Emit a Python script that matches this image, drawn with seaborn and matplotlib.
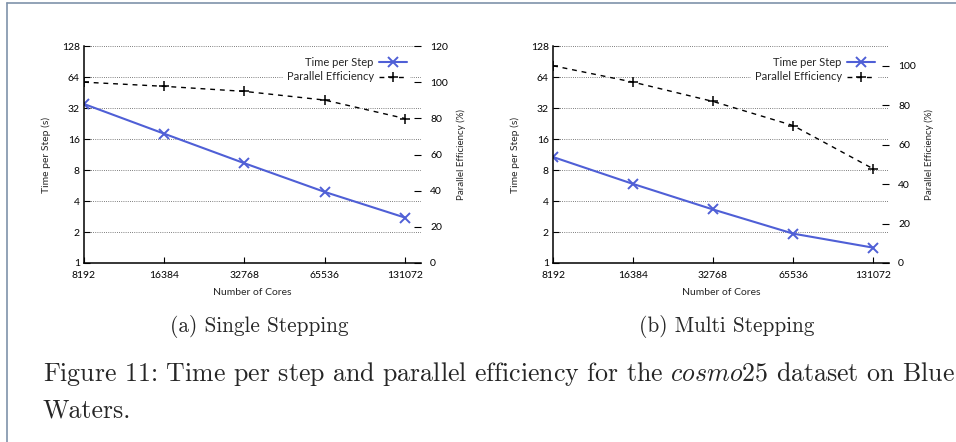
import matplotlib
matplotlib.use("Agg")
import matplotlib.pyplot as plt
from matplotlib.lines import Line2D
from matplotlib.ticker import NullLocator
import seaborn as sns

# data
cores = [8192, 16384, 32768, 65536, 131072]
single_time = [35.0, 18.0, 9.3, 4.9, 2.76]
single_eff = [100.0, 97.7, 94.9, 90.1, 79.9]
multi_time = [10.7, 5.86, 3.31, 1.93, 1.41]
multi_eff = [100.0, 91.7, 81.9, 69.7, 47.8]

time_ticks = [1, 2, 4, 8, 16, 32, 64, 128]
eff_ticks_single = [0, 20, 40, 60, 80, 100, 120]
eff_ticks_multi = [0, 20, 40, 60, 80, 100]

sns.set_style("white")
plt.rcParams["font.family"] = ["Lato", "DejaVu Sans"]
plt.rcParams["mathtext.fontset"] = "cm"

BLUE = "#4f5fd6"
FS = 7.5


def draw_panel(fig, rect, time, eff, eff_top, eff_ticks):
    ax = fig.add_axes(rect)
    ax.set_xscale("log", base=2)
    ax.set_yscale("log", base=2)

    sns.lineplot(x=cores, y=time, ax=ax, color=BLUE, lw=1.5, marker="x",
                 markersize=7, markeredgewidth=1.4, markeredgecolor=BLUE,
                 label="Time per Step", legend=False)

    ax.set_xlim(8192, 2 ** 17.2)
    ax.set_ylim(1, 128)
    ax.set_xticks(cores)
    ax.set_xticklabels([str(c) for c in cores])
    ax.set_yticks(time_ticks)
    ax.set_yticklabels([str(t) for t in time_ticks])
    ax.xaxis.set_minor_locator(NullLocator())
    ax.yaxis.set_minor_locator(NullLocator())
    ax.grid(axis="y", color="#555555", lw=0.6, ls=(0, (1, 1.6)))
    ax.grid(axis="x", visible=False)
    for s in ["top", "right"]:
        ax.spines[s].set_visible(False)
    for s in ["left", "bottom"]:
        ax.spines[s].set_color("black")
        ax.spines[s].set_linewidth(1.1)
    ax.tick_params(axis="both", direction="in", length=4, width=0.8,
                   labelsize=FS, colors="black")
    ax.tick_params(axis="y", pad=3, left=True)
    ax.tick_params(axis="x", pad=5.5, bottom=True)
    ax.set_xlabel("Number of Cores", fontsize=7.5, labelpad=6)
    ax.set_ylabel("Time per Step (s)", fontsize=7.5, labelpad=8)

    ax2 = ax.twinx()
    sns.lineplot(x=cores, y=eff, ax=ax2, color="black", lw=1.0,
                 linestyle=(0, (3.5, 3.5)), marker="+", markersize=7,
                 markeredgewidth=1.1, markeredgecolor="black",
                 label="Parallel Efficiency", legend=False)
    ax2.set_ylim(0, eff_top)
    ax2.set_yticks(eff_ticks)
    ax2.set_yticklabels([str(t) for t in eff_ticks])
    ax2.grid(False)
    for s in ax2.spines.values():
        s.set_visible(False)
    ax2.tick_params(axis="y", direction="in", length=5, width=0.8,
                    labelsize=FS, pad=6.5, right=True, colors="black")
    ax2.set_ylabel("Parallel Efficiency (%)", fontsize=7, labelpad=6)

    handles = [ax.lines[0], ax2.lines[0]]
    ax2.legend(handles=handles, labels=["Time per Step", "Parallel Efficiency"],
               loc="upper right", bbox_to_anchor=(0.985, 0.99), markerfirst=False,
               frameon=True, facecolor="white", edgecolor="none", framealpha=1,
               fancybox=False, fontsize=8, handlelength=2.5, handletextpad=0.5,
               labelspacing=0.3, borderpad=0.3)
    return ax, ax2


fig = plt.figure(figsize=(9.56, 4.42), dpi=100)
W, H = 956, 442

draw_panel(fig, [84 / W, 1 - 263 / H, 337 / W, 217 / H],
           single_time, single_eff, 120, eff_ticks_single)
draw_panel(fig, [553 / W, 1 - 263 / H, 336 / W, 217 / H],
           multi_time, multi_eff, 110, eff_ticks_multi)

# captions
fig.text(259 / W, 1 - 331.5 / H, "(a) Single Stepping", family="cmr10",
         fontsize=15.3, ha="center", va="baseline")
fig.text(727 / W, 1 - 331.5 / H, "(b) Multi Stepping", family="cmr10",
         fontsize=15.3, ha="center", va="baseline")
fig.text(43 / W, 1 - 381 / H,
         r"Figure 11: Time per step and parallel efficiency for the $\mathit{cosmo25}$ dataset on Blue",
         family="cmr10", fontsize=18.6, ha="left", va="baseline")
fig.text(43 / W, 1 - 418 / H, "Waters.", family="cmr10", fontsize=18.6,
         ha="left", va="baseline")

# page frame
frame = "#7f92aa"
fig.add_artist(Line2D([7 / W, 7 / W], [0, 1 - 3 / H], color=frame, lw=1.2,
                      transform=fig.transFigure))
fig.add_artist(Line2D([7 / W, 1], [1 - 3 / H, 1 - 3 / H], color=frame, lw=1.2,
                      transform=fig.transFigure))

fig.savefig("out.png", dpi=100, facecolor="white")
